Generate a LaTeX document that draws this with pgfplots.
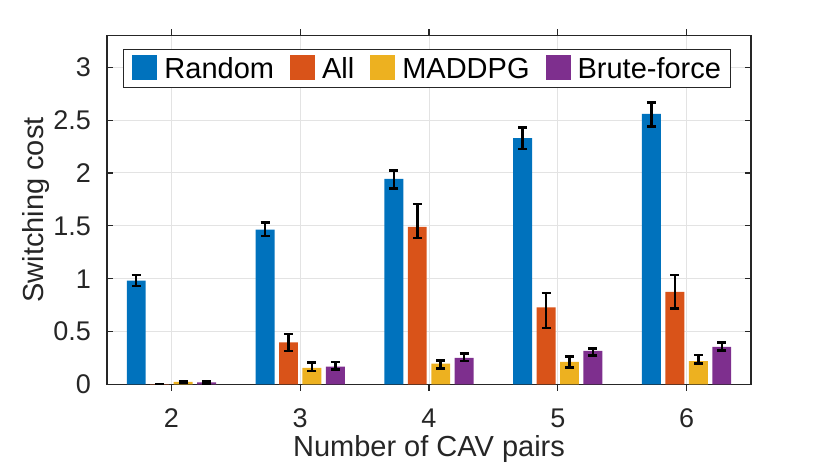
\documentclass[border=0pt]{standalone}
\usepackage{pgfplots}
\pgfplotsset{compat=1.18}
\usepackage{pgfplotstable}
\usepackage{fontspec}
\setmainfont{Liberation Sans}
\definecolor{c1}{rgb}{0,0.4470,0.7410}
\definecolor{c2}{rgb}{0.8500,0.3250,0.0980}
\definecolor{c3}{rgb}{0.9290,0.6940,0.1250}
\definecolor{c4}{rgb}{0.4940,0.1840,0.5560}
\definecolor{axc}{rgb}{0.15,0.15,0.15}
\pgfplotsset{mylegend/.style={legend image code/.code={\fill[##1,draw=none] (0pt,-11pt) rectangle (25pt,14pt);}}}
\pgfplotstableread{
x y ep em
2 0.982 0.054 0.050
3 1.465 0.065 0.060
4 1.944 0.080 0.090
5 2.330 0.100 0.105
6 2.560 0.106 0.121
}\trandom
\pgfplotstableread{
x y ep em
2 0.003 0.004 0.003
3 0.399 0.079 0.082
4 1.490 0.215 0.107
5 0.730 0.133 0.195
6 0.875 0.160 0.158
}\tall
\pgfplotstableread{
x y ep em
2 0.024 0.010 0.010
3 0.156 0.054 0.028
4 0.197 0.030 0.045
5 0.213 0.050 0.054
6 0.222 0.057 0.025
}\tmaddpg
\pgfplotstableread{
x y ep em
2 0.021 0.010 0.010
3 0.168 0.045 0.024
4 0.251 0.040 0.030
5 0.317 0.025 0.044
6 0.355 0.044 0.035
}\tbrute
\begin{document}
\begin{tikzpicture}[x=1pt,y=1pt]
\path[use as bounding box] (0,0) rectangle (830,465);
\begin{axis}[
  at={(107pt,80.5pt)}, anchor=south west,
  width=644pt, height=349pt, scale only axis,
  xmin=1.5, xmax=6.5, ymin=0, ymax=3.3,
  xtick={2,3,4,5,6}, ytick={0,0.5,1,1.5,2,2.5,3},
  ybar, bar width=0.147,
  axis line style={axc, line width=1.2pt},
  tick style={axc, line width=1.2pt},
  major tick length=6.4pt,
  xmajorgrids, ymajorgrids,
  grid style={line width=1pt, color=black!11},
  /pgf/number format/assume math mode=true,
  tick label style={font=\fontsize{27}{27}\selectfont, text=axc},
  xticklabel style={anchor=base, yshift=-37pt},
  yticklabel style={anchor=east, inner sep=0pt, xshift=-16pt},
  label style={font=\fontsize{29}{29}\selectfont, text=axc},
  xlabel={Number of CAV pairs},
  ylabel={Switching cost},
  xlabel style={at={(axis description cs:0.5,-0.2077)}, anchor=base},
  ylabel style={at={(axis description cs:-0.0986,0.5)}, anchor=base},
  legend columns=4,
  legend style={at={(0.0248,0.9605)}, anchor=north west, draw=axc, line width=1pt,
    font=\fontsize{29}{29}\selectfont, inner xsep=9pt, inner ysep=5pt,
    nodes={inner xsep=0pt},
    /tikz/every odd column/.append style={column sep=7pt},
    /tikz/every even column/.append style={column sep=16pt}},
  error bars/y dir=both, error bars/y explicit,
  error bars/error bar style={line width=2.5pt, black},
  error bars/error mark options={rotate=90, mark size=4.5pt, line width=2.5pt, black},
]
\addplot[fill=c1, draw=none, bar shift=-0.273, mylegend] table[x=x, y=y, y error plus=ep, y error minus=em] {\trandom};
\addlegendentry{Random}
\addplot[fill=c2, draw=none, bar shift=-0.091, mylegend] table[x=x, y=y, y error plus=ep, y error minus=em] {\tall};
\addlegendentry{All}
\addplot[fill=c3, draw=none, bar shift=0.091, mylegend] table[x=x, y=y, y error plus=ep, y error minus=em] {\tmaddpg};
\addlegendentry{MADDPG}
\addplot[fill=c4, draw=none, bar shift=0.273, mylegend] table[x=x, y=y, y error plus=ep, y error minus=em] {\tbrute};
\addlegendentry{Brute-force}
\end{axis}
\end{tikzpicture}
\end{document}
